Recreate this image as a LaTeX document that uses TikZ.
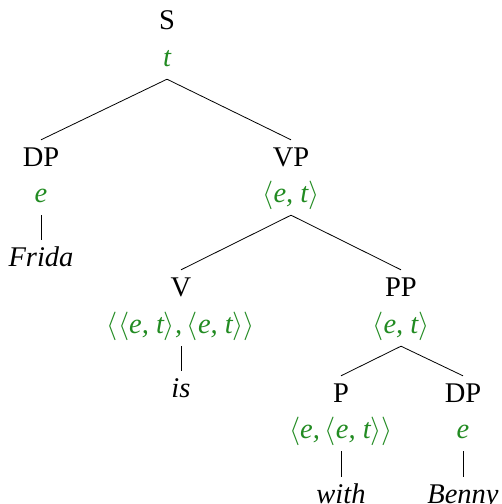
\RequirePackage{fix-cm}
\documentclass[tikz,border=0pt]{standalone}
\usepackage{fontspec}
\setmainfont{Liberation Serif}
\definecolor{tygreen}{RGB}{34,139,34}
\newcommand{\myl}{\ensuremath{\langle}}
\newcommand{\myr}{\ensuremath{\rangle}}
\tikzset{
  base/.style={anchor=base, font=\fontsize{28.5}{33}\selectfont, text height=20pt, text depth=7pt, inner sep=6pt},
  cat/.style={base},
  ty/.style={base, text=tygreen, font=\fontsize{28.5}{33}\selectfont\itshape},
  word/.style={base, font=\fontsize{28.5}{33}\selectfont\itshape},
  edge/.style={draw, line width=0.8pt}
}
\begin{document}
\begin{tikzpicture}[x=1pt,y=-1pt]
\useasboundingbox (0,0) rectangle (502,504);
% S
\node[cat] (s) at (167,29) {S};
\node[ty] (st) at (167,66) {t};
% DP left
\node[cat] (dp1) at (41,166) {DP};
\node[ty] (dp1t) at (41,202) {e};
\node[word] (frida) at (41,266) {Frida};
% VP
\node[cat] (vp) at (291,166) {VP};
\node[ty] (vpt) at (291,202) {\myl e, t\myr};
% V
\node[cat] (v) at (181,296) {V};
\node[ty] (vt) at (181,333) {\myl\myl e, t\myr,\,\myl e, t\myr\myr};
\node[word] (is) at (181,397) {is};
% PP
\node[cat] (pp) at (401,296) {PP};
\node[ty] (ppt) at (401,333) {\myl e, t\myr};
% P
\node[cat] (p) at (341,402) {P};
\node[ty] (pt) at (341,438) {\myl e,\,\myl e, t\myr\myr};
\node[word] (with) at (341,503) {with};
% DP right
\node[cat] (dp2) at (463,402) {DP};
\node[ty] (dp2t) at (463,438) {e};
\node[word] (benny) at (463,503) {Benny};
% edges
\draw[edge] (st.south) -- (dp1.north);
\draw[edge] (st.south) -- (vp.north);
\draw[edge] (dp1t.south) -- (frida.north);
\draw[edge] (vpt.south) -- (v.north);
\draw[edge] (vpt.south) -- (pp.north);
\draw[edge] (vt.south) -- (is.north);
\draw[edge] (ppt.south) -- (p.north);
\draw[edge] (ppt.south) -- (dp2.north);
\draw[edge] (pt.south) -- (with.north);
\draw[edge] (dp2t.south) -- (benny.north);
\end{tikzpicture}
\end{document}
